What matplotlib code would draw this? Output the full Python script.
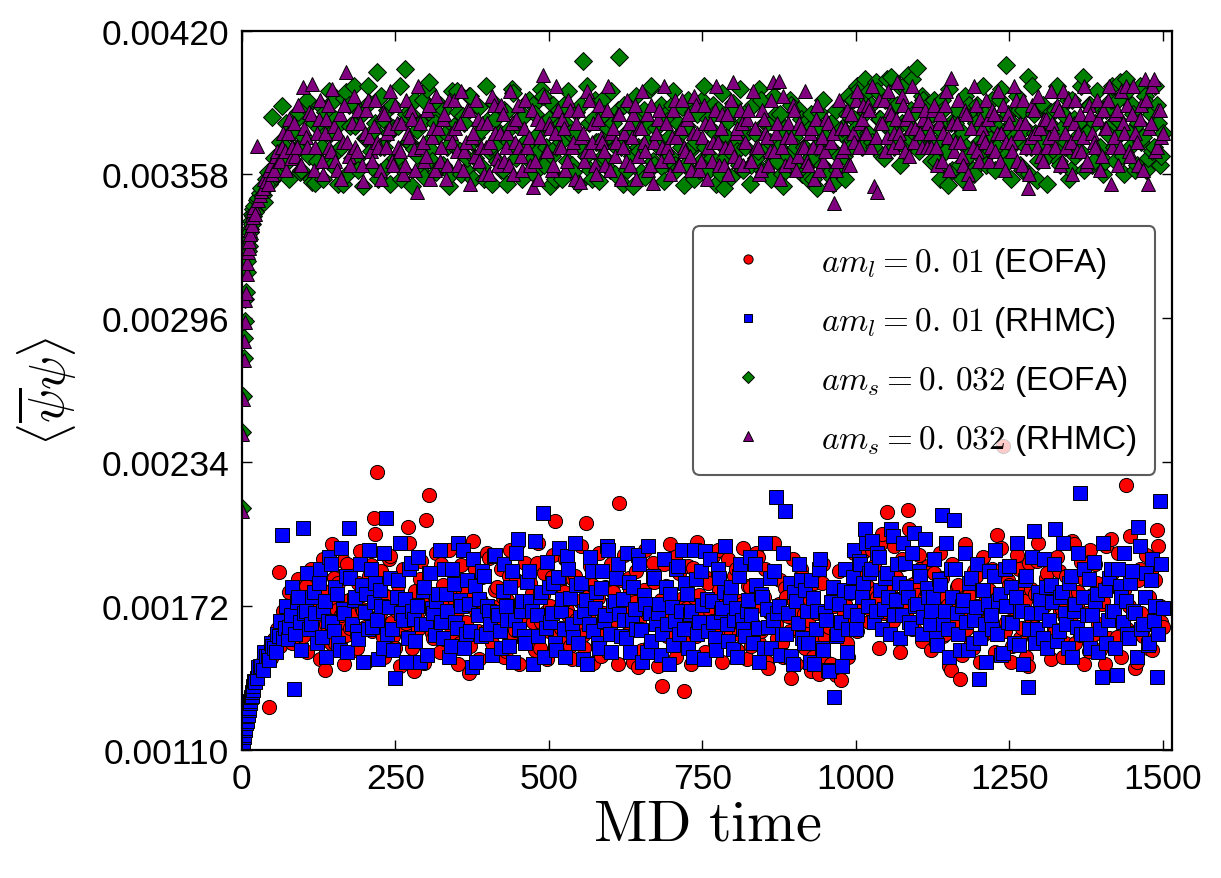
import numpy as np
import matplotlib.pyplot as plt

plt.rcParams['mathtext.fontset'] = 'cm'
plt.rcParams['font.family'] = ['Liberation Sans', 'DejaVu Sans']

# MD time: every unit over the first 20, then every 5th trajectory,
# plus a second pass of trajectories in between (22, 27, ...)
md_time = np.concatenate([np.arange(0, 20), np.arange(20, 1501, 5)])
md_time_b = np.arange(22, 1500, 5)

# <psibar psi>, in units of 1e-6
light_eofa = [
    1108, 1115, 1140, 1146, 1172, 1178, 1201, 1209, 1230, 1236, 1258, 1262, 1288, 1290, 1311, 1318, 1338, 1341, 1360, 1372,
    1390, 1425, 1455, 1478, 1500, 1282, 1560, 1530, 1868, 1580, 1645, 1600, 1702, 1625, 1750, 1655, 1590, 1805, 1680, 1722,
    1735, 1612, 1790, 1445, 1688, 1560, 1842, 1703, 1650, 1915, 1596, 1744, 1680, 1528, 1820, 1705, 1630, 1780, 1895, 2100,
    2296, 1690, 1585, 1762, 1920, 1650, 1540, 1808, 1700, 1615, 2060, 1755, 1440, 1670, 1835, 1720, 2090, 2200, 1605, 1760,
    1680, 1902, 1575, 1745, 1630, 1805, 1698, 1560, 1770, 1652, 1432, 1725, 1880, 1610, 1740, 1685, 1950, 1590, 1715, 1800,
    1640, 1760, 1525, 1850, 1700, 1618, 1990, 1735, 1580, 1672, 1820, 1650, 1905, 1540, 1768, 1695, 1610, 1845, 2084, 1700,
    1625, 1780, 1702, 1548, 1835, 1660, 1740, 1595, 2076, 1688, 1812, 1630, 1755, 1505, 1690, 1870, 1640, 1780, 1720, 2165,
    1700, 1575, 1840, 1660, 1735, 1455, 1620, 1790, 1688, 1550, 1905, 1640, 1722, 1376, 1805, 1598, 1680, 1930, 1625, 1748,
    1355, 1710, 1640, 1882, 1590, 1765, 1690, 1520, 1820, 1655, 1740, 1960, 1610, 1702, 1570, 1795, 1665, 1880, 1598, 1730,
    1650, 1805, 1545, 1720, 1930, 1612, 1760, 1480, 1690, 1850, 1640, 1728, 1560, 1795, 1675, 1410, 1742, 1620, 1880, 1685,
    1600, 1745, 1500, 1690, 1425, 1818, 1580, 1660, 1470, 1720, 1615, 1400, 1690, 1560, 1775, 1640, 1860, 1705, 1950, 1750,
    1800, 1702, 1890, 1760, 1985, 1690, 2123, 1780, 1655, 1845, 1740, 1920, 1700, 2132, 1810, 1625, 1765, 1880, 1690, 1735,
    1650, 1790, 1560, 1712, 1840, 1600, 1725, 1445, 1680, 1800, 1406, 1695, 1620, 1765, 1540, 1850, 1705, 1590, 1738, 1660,
    1720, 1600, 2024, 1765, 2408, 1650, 1810, 1545, 1700, 1880, 1625, 1740, 1460, 1792, 1680, 1915, 1590, 1725, 1840, 1660,
    1755, 1610, 1870, 1705, 1560, 1790, 1650, 1985, 1720, 1595, 1840, 1680, 1525, 1765, 1902, 1640, 1730, 1470, 1815, 2010,
    1700, 1585, 1790, 1650, 2240, 1720, 1605, 1450, 1830, 1690, 1760, 1540, 1870, 1655, 2045, 1720, 1630,
]
light_eofa_b = [
    1400, 1440, 1470, 1500, 1530, 1495, 1575, 1620, 1545, 1700, 1590, 1780, 1560, 1690, 1835, 1610, 1740, 1520, 1880, 1650,
    1790, 1490, 1920, 1640, 1735, 1985, 1560, 1820, 1680, 1470, 1900, 1625, 1760, 1540, 1955, 1700, 1480, 1850, 1610, 2030,
    1660, 1870, 1500, 1760, 1935, 1590, 1700, 1460, 1880, 1645, 1990, 1540, 1785, 1620, 1915, 1475, 1730, 1860, 1580, 1950,
    1520, 1810, 1690, 1960, 1575, 1740, 1470, 1895, 1630, 1780, 1545, 2000, 1700, 1490, 1845, 1610, 1925, 1560, 1790, 1655,
    1880, 1500, 1745, 1960, 1600, 1830, 1470, 1700, 1905, 1580, 1775, 1530, 1990, 1650, 1860, 1490, 1720, 1940, 1605, 1815,
    1560, 1920, 1680, 1490, 1850, 1620, 1980, 1540, 1760, 1890, 1475, 1710, 1950, 1590, 1800, 1520, 1900, 1660, 1470, 1830,
    1940, 1600, 1790, 1480, 1870, 1650, 1530, 1960, 1700, 1560, 1825, 1460, 1745, 1900, 1590, 1985, 1640, 1500, 1860, 1720,
    1580, 1890, 1470, 1760, 1995, 1620, 1510, 1840, 1700, 1935, 1550, 1790, 1480, 1660, 1920, 1600, 1850, 1530, 1740, 1970,
    1490, 1800, 1640, 1950, 1560, 1720, 1880, 1450, 1690, 1990, 1580, 1830, 1500, 1760, 1610, 1920, 1470, 1700, 1850, 1540,
    1660, 1440, 1820, 1560, 1700, 1900, 1480, 1630, 1780, 1420, 1870, 1590, 1730, 1500, 1660, 1950, 1610, 1840, 1720, 2010,
    1650, 1960, 1780, 1540, 2030, 1700, 1860, 1600, 1980, 1750, 1520, 1900, 1680, 2050, 1620, 1820, 1940, 1570, 1760, 1890,
    1530, 1860, 1700, 1950, 1590, 1760, 1460, 1900, 1640, 1810, 1510, 1985, 1680, 1560, 1870, 1720, 1480, 1930, 1620, 1790,
    1880, 1520, 1760, 1970, 1610, 1830, 1480, 1700, 1940, 1580, 1800, 1500, 1905, 1650, 1770, 1990, 1560, 1720, 1860, 1490,
    1620, 1930, 1700, 1500, 1850, 1640, 2000, 1560, 1780, 1910, 1470, 1690, 1960, 1600, 1820, 1530, 1740, 1980, 1580, 1860,
    1660, 1950, 1500, 1790, 1620, 2020, 1700, 1480, 1880, 1590, 1940, 1760, 1530, 1830, 1980, 1650,
]
light_rhmc = [
    1100, 1120, 1132, 1155, 1163, 1185, 1192, 1215, 1222, 1245, 1250, 1272, 1279, 1300, 1308, 1326, 1332, 1350, 1356, 1375,
    1395, 1410, 1462, 1445, 1505, 1488, 1545, 1520, 1590, 2024, 1625, 1575, 1680, 1363, 1735, 1650, 2054, 1700, 1620, 1760,
    1690, 1820, 1585, 1740, 1655, 1900, 1610, 1772, 1530, 1705, 1850, 2054, 1640, 1758, 1575, 1810, 1695, 1620, 1880, 1735,
    1660, 1790, 1540, 2097, 1715, 1620, 1407, 1830, 1690, 1750, 1580, 1905, 1665, 1720, 1480, 1785, 1640, 1860, 1710, 1595,
    1770, 1650, 1880, 1700, 1545, 1815, 1625, 1745, 1960, 1600, 1730, 1455, 1805, 1680, 1590, 1850, 1720, 1640, 1935, 1695,
    1610, 1785, 1720, 1545, 1870, 1660, 2010, 1700, 1590, 1825, 1740, 1470, 1680, 1760, 2119, 1625, 1800, 1690, 1560, 1845,
    1700, 1620, 1935, 1755, 1585, 1810, 1672, 1490, 1745, 1640, 1870, 1710, 1560, 1795, 1655, 1980, 1600, 1725, 1840, 1685,
    1750, 1580, 1822, 1660, 1705, 1940, 1615, 1765, 1520, 1690, 1850, 1640, 1730, 1600, 1800, 1470, 1715, 1655, 1890, 1700,
    1620, 1770, 1685, 1500, 1835, 1650, 1725, 1955, 1610, 1740, 1580, 1880, 1695, 1780, 1640, 1760, 1535, 1710, 1850, 1660,
    1590, 1745, 1680, 1900, 1625, 1770, 1540, 1705, 1840, 1660, 2188, 1720, 1600, 2127, 1690, 1505, 1780, 1645, 1830, 1560,
    1700, 1480, 1755, 1620, 1880, 1540, 1690, 1445, 1735, 1329, 1600, 1650, 1790, 1520, 1700, 1845, 1620, 1915, 1760, 2050,
    1720, 1880, 1650, 1950, 1790, 1705, 1860, 1600, 2020, 1745, 1820, 1680, 1905, 1760, 1625, 2035, 1730, 1850, 1670, 1795,
    1640, 1760, 1580, 1835, 2110, 1700, 1620, 1880, 2090, 1690, 1530, 1745, 1650, 1820, 1560, 1715, 1405, 1790, 1640, 1730,
    1680, 1850, 1600, 1770, 1515, 1720, 1890, 1645, 1760, 1550, 1700, 1830, 1372, 1690, 2041, 1620, 1745, 1580, 1800, 1660,
    1735, 2050, 1610, 1780, 1690, 1540, 1850, 1700, 1630, 2205, 1760, 1600, 1835, 1680, 1740, 1520, 1415, 1790, 1660, 1880,
    1700, 1420, 1805, 1650, 1740, 1580, 1870, 1690, 2058, 1620, 1760, 1550, 1830, 1655, 1415, 2171, 1710,
]
light_rhmc_b = [
    1390, 1455, 1460, 1520, 1505, 1560, 1540, 1600, 1655, 1580, 1720, 1630, 1800, 1600, 1760, 1530, 1690, 1860, 1640, 1780,
    1560, 1880, 1700, 1500, 1930, 1650, 1800, 1560, 1970, 1690, 1520, 1840, 1745, 1610, 1900, 1480, 1770, 1960, 1630, 1820,
    1490, 1720, 1950, 1600, 1840, 1530, 1760, 1990, 1660, 1480, 1880, 1700, 1570, 1930, 1640, 1800, 1510, 1860, 1690, 1740,
    1960, 1580, 1770, 1500, 1880, 1650, 1990, 1720, 1540, 1830, 1610, 1920, 1480, 1750, 1870, 1600, 1700, 1510, 1940, 1680,
    1540, 1900, 1660, 1800, 1480, 1950, 1620, 1740, 1560, 1870, 1700, 2000, 1590, 1780, 1500, 1910, 1650, 1820, 1530, 1970,
    1750, 1500, 1880, 1640, 1990, 1560, 1820, 1700, 1470, 1930, 1610, 1780, 1540, 1870, 1680, 1960, 1520, 1740, 1900, 1590,
    1660, 1950, 1520, 1800, 1620, 1900, 1480, 1730, 1980, 1570, 1840, 1690, 1510, 1920, 1640, 1770, 1550, 1880, 1600, 1960,
    1820, 1540, 1700, 1960, 1600, 1870, 1490, 1750, 1920, 1650, 1530, 1840, 1710, 1980, 1570, 1800, 1660, 1500, 1900, 1620,
    1700, 1930, 1560, 1810, 1480, 1760, 1990, 1630, 1540, 1870, 1690, 1510, 1950, 1600, 1820, 1470, 1740, 1900, 1580, 1790,
    1560, 1830, 1470, 1700, 1920, 1530, 1660, 1440, 1800, 1590, 1730, 1460, 1880, 1620, 1780, 1960, 1680, 1900, 1820, 1990,
    1860, 2000, 1700, 1930, 1620, 1840, 1760, 2050, 1680, 1900, 1580, 1990, 1800, 1650, 1950, 1720, 1870, 1600, 2010, 1760,
    1700, 1920, 1550, 1810, 1640, 1990, 1500, 1760, 1880, 1600, 1720, 1950, 1530, 1840, 1660, 1900, 1580, 1790, 1480, 1870,
    1620, 1960, 1740, 1510, 1880, 1650, 1800, 1560, 1990, 1700, 1470, 1850, 1620, 1930, 1560, 1780, 1690, 1920, 1540, 1810,
    1900, 1570, 1760, 1990, 1640, 1820, 1500, 1730, 1950, 1600, 1880, 1680, 1540, 1910, 1770, 1620, 1990, 1560, 1840, 1700,
    1540, 1880, 1760, 1950, 1600, 1820, 1700, 1500, 1980, 1640, 1860, 1560, 1920, 1720, 1600, 1900,
]
strange_eofa = [
    2140, 2470, 2625, 2790, 2875, 2950, 3045, 3075, 3160, 3205, 3250, 3270, 3300, 3345, 3330, 3380, 3365, 3410, 3400, 3430,
    3445, 3470, 3500, 3490, 3560, 3540, 3828, 3575, 3650, 3876, 3700, 3640, 3760, 3680, 3820, 3590, 3720, 3870, 3660, 3548,
    3545, 3780, 3700, 3850, 3640, 3760, 3900, 3680, 3800, 3539, 3936, 3880, 3650, 3790, 3600, 3840, 3735, 3960, 3680, 3770,
    4023, 3700, 3820, 3610, 3760, 3880, 3650, 3790, 3560, 4036, 3720, 3840, 3690, 3770, 3600, 3900, 3710, 3980, 3640, 3800,
    3750, 3620, 3860, 3700, 3580, 3790, 3940, 3680, 3830, 3600, 3920, 3720, 3650, 3870, 3770, 3560, 3810, 3700, 3890, 3640,
    3760, 3600, 3850, 3720, 3950, 3680, 3790, 3570, 3830, 3700, 3640, 3880, 3750, 3610, 3920, 3700, 3820, 3660, 3560, 3790,
    3720, 3880, 3640, 3760, 3590, 3850, 3700, 4070, 3660, 3800, 3560, 3900, 3720, 3650, 3840, 3740, 3600, 3800, 3700, 4087,
    3540, 3760, 3880, 3660, 3800, 3700, 3590, 3860, 3720, 3950, 3640, 3780, 3700, 3610, 3840, 3740, 3880, 3620, 3800, 3700,
    3535, 3790, 3680, 3850, 3720, 3600, 3900, 3700, 3820, 3650, 3760, 3860, 3580, 3522, 3740, 3680, 3890, 3720, 3620, 3800,
    3700, 3860, 3620, 3760, 3680, 3900, 3590, 3800, 3720, 3640, 3840, 3700, 3580, 3780, 3660, 3880, 3740, 3600, 3820, 3700,
    3640, 3780, 3560, 3700, 3850, 3620, 3740, 3580, 3800, 3680, 3600, 3760, 3660, 3840, 3720, 3900, 3780, 3950, 3700, 3990,
    3760, 3880, 3700, 3940, 3820, 3650, 3992, 3780, 3880, 3720, 3960, 3800, 3700, 4010, 3860, 3760, 4040, 3720, 3900, 3780,
    3700, 3840, 3640, 3780, 3900, 3680, 3535, 3800, 3720, 3860, 3620, 3760, 3700, 3880, 3600, 3800, 3720, 3650, 3840, 3740,
    3680, 3820, 3700, 3900, 3760, 4053, 3640, 3800, 3720, 3860, 3600, 3780, 4000, 3700, 3840, 3556, 3760, 3880, 3650, 3800,
    3720, 3860, 3640, 3780, 3700, 3900, 3600, 3820, 3740, 3680, 4001, 3760, 3880, 3620, 3800, 3700, 3860, 3640, 3780, 3900,
    3700, 3820, 3980, 3660, 3990, 3760, 3880, 3600, 3800, 3720, 3920, 3650, 3840, 3700, 3880, 3620, 3760,
]
strange_eofa_b = [
    3420, 3480, 3520, 3460, 3590, 3560, 3650, 3580, 3720, 3630, 3800, 3560, 3760, 3680, 3850, 3600, 3740, 3900, 3560, 3800,
    3640, 3880, 3560, 3760, 3940, 3620, 3820, 3540, 3700, 3910, 3580, 3790, 3960, 3650, 3850, 3530, 3740, 3890, 3610, 3800,
    3560, 3920, 3700, 3860, 3540, 3780, 3640, 3960, 3600, 3840, 3720, 3530, 3900, 3660, 3800, 3570, 3950, 3690, 3830, 3590,
    3880, 3620, 3760, 3530, 3940, 3700, 3850, 3580, 3800, 3650, 3920, 3560, 3740, 3870, 3610, 3960, 3680, 3540, 3820, 3720,
    3600, 3860, 3540, 3780, 3930, 3650, 3820, 3560, 3720, 3900, 3590, 3840, 3680, 3950, 3620, 3790, 3530, 3880, 3700, 3860,
    3560, 3800, 3940, 3620, 3760, 3540, 3880, 3690, 3960, 3600, 3820, 3720, 3550, 3900, 3650, 3780, 3940, 3580, 3860, 3700,
    3880, 3600, 3760, 3530, 3920, 3680, 3840, 3570, 3790, 3960, 3620, 3730, 3880, 3550, 3810, 3660, 3940, 3600, 3750, 3870,
    3620, 3900, 3700, 3560, 3840, 3640, 3960, 3590, 3780, 3880, 3540, 3720, 3930, 3650, 3810, 3570, 3860, 3680, 3950, 3600,
    3760, 3540, 3880, 3650, 3950, 3600, 3800, 3700, 3560, 3920, 3640, 3840, 3530, 3760, 3900, 3610, 3700, 3860, 3580, 3800,
    3560, 3840, 3650, 3520, 3780, 3900, 3600, 3700, 3540, 3860, 3660, 3780, 3560, 3920, 3700, 3820, 3960, 3760, 3900, 3850,
    3940, 3720, 3980, 3820, 3660, 3900, 3780, 4000, 3700, 3880, 3620, 3960, 3800, 3740, 3990, 3850, 3680, 3920, 3760, 3880,
    3640, 3900, 3720, 3560, 3860, 3680, 3950, 3600, 3800, 3740, 3560, 3920, 3660, 3830, 3580, 3880, 3700, 3960, 3620, 3800,
    3900, 3600, 3780, 3950, 3660, 3840, 3560, 3740, 3920, 3620, 3860, 3700, 3580, 3960, 3760, 3640, 3880, 3720, 3540, 3850,
    3680, 3960, 3620, 3840, 3720, 3560, 3900, 3660, 3800, 3960, 3600, 3760, 3880, 3640, 3940, 3700, 3580, 3860, 3750, 3960,
    3640, 3900, 3760, 3580, 3940, 3700, 3840, 3620, 3960, 3740, 3600, 3880, 3680, 3960, 3800, 3660,
]
strange_rhmc = [
    2130, 2460, 2610, 2780, 2860, 2945, 3040, 3070, 3150, 3200, 3245, 3265, 3295, 3340, 3325, 3375, 3360, 3405, 3395, 3425,
    3440, 3703, 3490, 3520, 3550, 3600, 3580, 3660, 3640, 3700, 3680, 3760, 3650, 3800, 3700, 3620, 3958, 3740, 3850, 3971,
    3700, 3820, 3640, 3760, 3880, 3680, 3790, 3600, 3840, 3720, 4023, 3660, 3800, 3700, 3860, 3620, 3760, 3900, 3680, 3790,
    3720, 3600, 3850, 3700, 3780, 3640, 3880, 3700, 3800, 3620, 3760, 3860, 3690, 3505, 3800, 3720, 3660, 3880, 3740, 3600,
    3780, 3700, 3840, 3620, 3760, 3900, 3680, 3800, 3600, 3720, 3860, 3740, 3660, 3820, 3700, 3580, 3800, 3720, 3880, 3650,
    3760, 3840, 3700, 3620, 3800, 3720, 3880, 3660, 3780, 3700, 3620, 3526, 3820, 3740, 4010, 3680, 3800, 3600, 3760, 3860,
    3700, 3780, 3640, 3860, 3720, 3800, 3548, 3760, 3680, 3900, 3720, 3620, 3820, 3740, 3680, 3860, 3600, 3780, 3720, 3840,
    3700, 3640, 3800, 3740, 3880, 3660, 3780, 3720, 3840, 3620, 3545, 3760, 3860, 3700, 3800, 3660, 3740, 3900, 3620, 3780,
    3700, 3820, 3660, 3760, 3880, 3600, 3740, 3800, 3700, 3640, 3860, 3720, 3780, 3620, 3840, 3700, 3980, 3760, 3640, 3800,
    3720, 3860, 3640, 3780, 3700, 3600, 3820, 3740, 3680, 3980, 3760, 3985, 3700, 3620, 3800, 3740, 3860, 3660, 3780, 3700,
    3640, 3760, 3700, 3820, 3600, 3740, 3680, 3800, 3720, 3457, 3640, 3780, 3700, 3860, 3620, 3760, 3900, 3700, 3820, 3760,
    3880, 3700, 3530, 3505, 3800, 3900, 3740, 3860, 3700, 3820, 3760, 3920, 3680, 3840, 3780, 3720, 3880, 3760, 3820, 3700,
    3760, 3860, 3700, 3800, 3640, 3880, 3740, 3997, 3680, 3800, 3720, 3620, 3840, 3545, 3700, 3880, 3640, 3780, 3720, 3820,
    3700, 3840, 3760, 3640, 3880, 3720, 3800, 3680, 3900, 3760, 3620, 3800, 3522, 3740, 3860, 3700, 3780, 3640, 3820, 3740,
    3800, 3700, 3860, 3640, 3760, 3900, 3720, 3800, 3680, 3840, 3740, 3620, 3880, 3760, 3700, 3820, 3660, 3780, 3900, 3540,
    3740, 3860, 3700, 3800, 3960, 3680, 3840, 3760, 3620, 3880, 3990, 3540, 3800, 3990, 3700, 3860, 3760,
]
strange_rhmc_b = [
    3410, 3470, 3510, 3560, 3540, 3620, 3600, 3680, 3640, 3760, 3600, 3820, 3700, 3660, 3880, 3620, 3780, 3700, 3840, 3600,
    3760, 3900, 3580, 3820, 3700, 3950, 3640, 3760, 3560, 3880, 3720, 3620, 3920, 3680, 3800, 3550, 3860, 3740, 3640, 3900,
    3700, 3560, 3840, 3760, 3940, 3620, 3800, 3680, 3580, 3900, 3740, 3820, 3600, 3960, 3700, 3640, 3860, 3560, 3780, 3920,
    3640, 3820, 3560, 3900, 3720, 3780, 3620, 3940, 3680, 3860, 3540, 3760, 3900, 3640, 3800, 3700, 3580, 3920, 3760, 3620,
    3880, 3640, 3760, 3940, 3580, 3820, 3700, 3600, 3900, 3740, 3860, 3640, 3560, 3800, 3920, 3680, 3780, 3620, 3960, 3700,
    3820, 3600, 3900, 3700, 3560, 3860, 3740, 3640, 3940, 3680, 3800, 3580, 3880, 3720, 3620, 3960, 3760, 3660, 3840, 3560,
    3760, 3900, 3620, 3840, 3560, 3780, 3940, 3680, 3600, 3880, 3720, 3820, 3640, 3960, 3700, 3580, 3860, 3740, 3620, 3900,
    3680, 3840, 3600, 3920, 3760, 3640, 3880, 3560, 3800, 3720, 3960, 3620, 3840, 3700, 3580, 3900, 3660, 3780, 3860, 3620,
    3820, 3640, 3940, 3700, 3580, 3860, 3760, 3620, 3900, 3680, 3800, 3560, 3920, 3740, 3640, 3880, 3600, 3800, 3700, 3940,
    3620, 3780, 3560, 3880, 3700, 3640, 3820, 3540, 3760, 3600, 3900, 3680, 3780, 3620, 3840, 3720, 3940, 3800, 3880, 3760,
    3860, 3960, 3740, 3900, 3800, 3680, 3940, 3840, 3760, 3980, 3720, 3880, 3820, 3660, 3960, 3780, 3900, 3700, 3860, 3800,
    3700, 3880, 3620, 3840, 3760, 3940, 3600, 3800, 3720, 3900, 3660, 3860, 3580, 3780, 3960, 3680, 3820, 3740, 3900, 3640,
    3860, 3680, 3940, 3760, 3600, 3840, 3720, 3960, 3640, 3800, 3900, 3700, 3580, 3880, 3760, 3920, 3660, 3820, 3700, 3940,
    3760, 3880, 3620, 3940, 3700, 3820, 3580, 3900, 3760, 3680, 3960, 3640, 3840, 3720, 3900, 3600, 3860, 3780, 3960, 3700,
    3840, 3620, 3940, 3760, 3880, 3660, 3960, 3720, 3820, 3600, 3900, 3780, 3960, 3680, 3860, 3740,
]

labels = [r'$am_l = 0.\,01$ (EOFA)', r'$am_l = 0.\,01$ (RHMC)',
          r'$am_s = 0.\,032$ (EOFA)', r'$am_s = 0.\,032$ (RHMC)']
yticks = [0.00110, 0.00172, 0.00234, 0.00296, 0.00358, 0.00420]
xticks = [0, 250, 500, 750, 1000, 1250, 1500]

fig = plt.figure(figsize=(12.21, 8.79), dpi=100)
ax = fig.add_axes([0.198, 0.146, 0.762, 0.818])

t_all = np.concatenate([md_time, md_time_b])
order = np.argsort(t_all, kind='stable')
series = [light_eofa + light_eofa_b, light_rhmc + light_rhmc_b,
          strange_eofa + strange_eofa_b, strange_rhmc + strange_rhmc_b]
styles = [('o', 'red', 10.2), ('s', 'blue', 9.6), ('D', 'green', 9.4), ('^', 'purple', 10.2)]
for vals, (m, col, ms), lab in zip(series, styles, labels):
    ax.plot(t_all[order], (np.array(vals) * 1e-6)[order], m, color=col, ms=ms,
            mec='black', mew=0.7, label=lab)

ax.set_xlim(0, 1515)
ax.set_ylim(0.0011, 0.0042)
ax.set_xticks(xticks)
ax.set_yticks(yticks)
ax.set_yticklabels(['%.5f' % v for v in yticks])
ax.tick_params(direction='in', top=True, right=True, length=7, width=1,
               labelsize=25.5, pad=9)
for sp in ax.spines.values():
    sp.set_linewidth(1.6)

ax.set_xlabel(r'$\mathrm{MD\ time}$', fontsize=42, labelpad=2)
ax.set_ylabel(r'$\langle\overline{\psi}\psi\rangle$', fontsize=36, labelpad=16)

leg = ax.legend(loc='upper right', bbox_to_anchor=(0.982, 0.728), borderaxespad=0,
                numpoints=1, markerscale=0.65, fontsize=24, fancybox=True,
                framealpha=0.8, handletextpad=1.1, labelspacing=0.72,
                borderpad=0.55, handlelength=2.2)
leg.get_frame().set_edgecolor('#333333')
leg.get_frame().set_linewidth(1.5)

fig.savefig('out.png', dpi=100)
